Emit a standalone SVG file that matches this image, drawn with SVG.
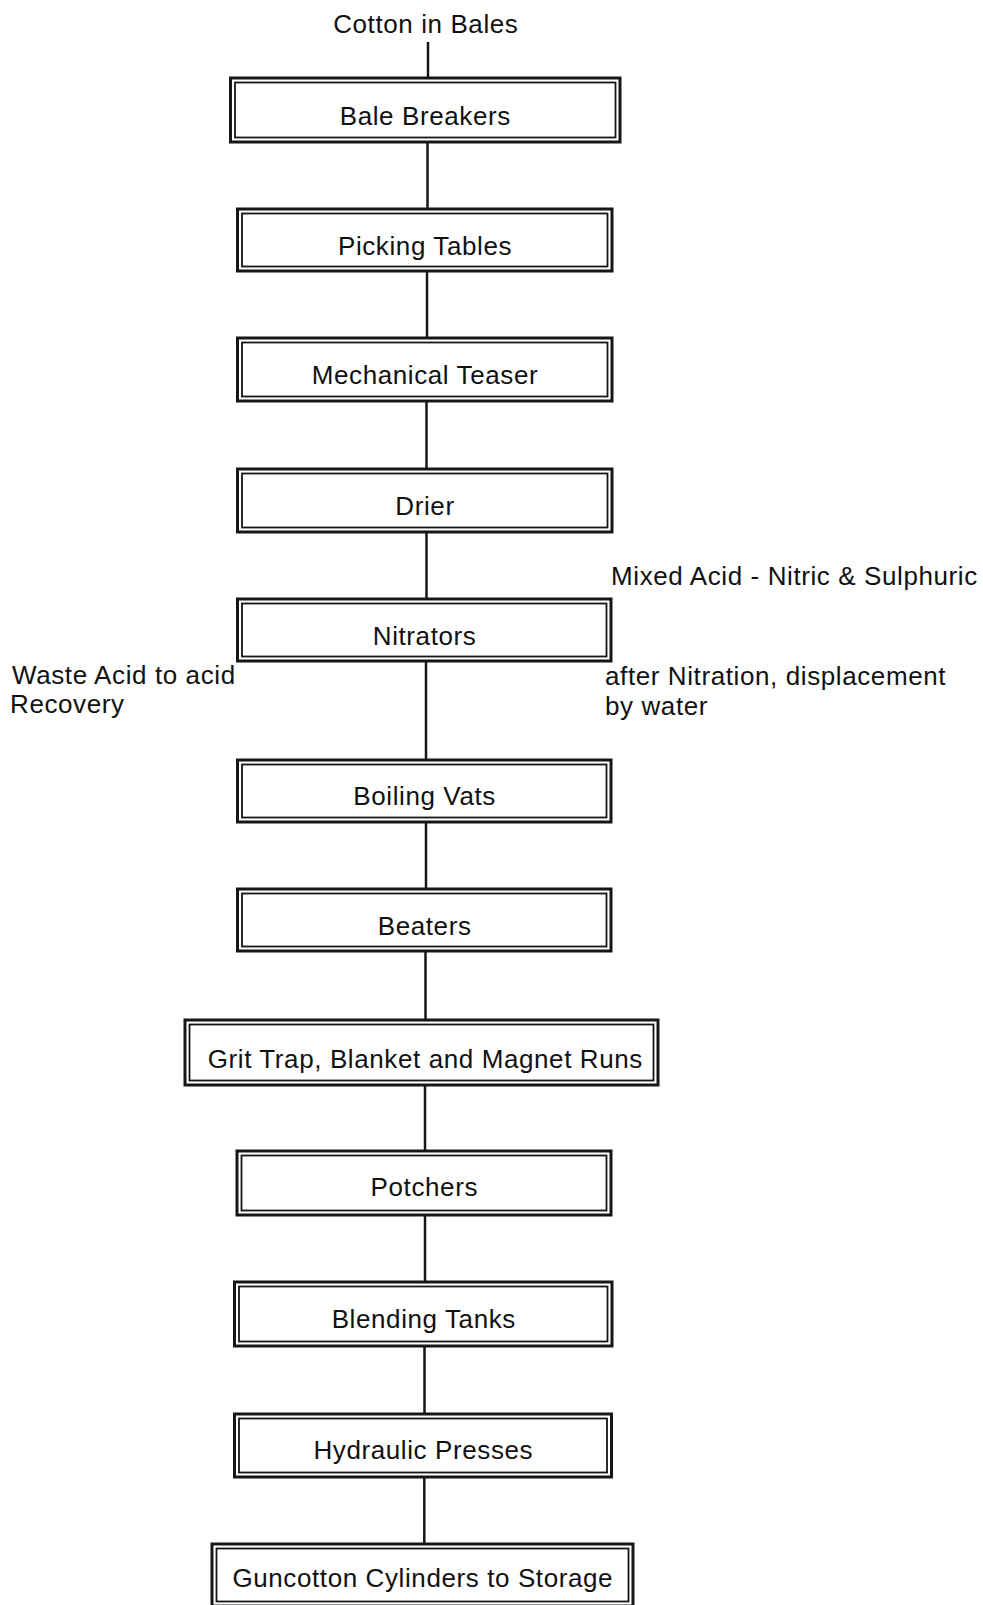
<svg xmlns="http://www.w3.org/2000/svg" width="983" height="1605" viewBox="0 0 983 1605">
<style>
.o{fill:#fff;stroke:#161616;stroke-width:3}
.i{fill:none;stroke:#161616;stroke-width:1.8}
.t{font-family:"Liberation Sans",Arial,sans-serif;font-size:26px;letter-spacing:0.6px;fill:#111;text-anchor:middle}
.l{font-family:"Liberation Sans",Arial,sans-serif;font-size:26px;letter-spacing:0.6px;fill:#111}
.c{stroke:#161616;stroke-width:2.5;fill:none}
</style>
<rect width="983" height="1605" fill="#fff"/>
<g id="connectors">
<line class="c" x1="428" y1="42" x2="428" y2="78"/>
<line class="c" x1="427.5" y1="142" x2="427.5" y2="209"/>
<line class="c" x1="427" y1="271" x2="427" y2="338"/>
<line class="c" x1="426.5" y1="401" x2="426.5" y2="469"/>
<line class="c" x1="426.5" y1="532" x2="426.5" y2="599"/>
<line class="c" x1="426" y1="661" x2="426" y2="760"/>
<line class="c" x1="426" y1="822" x2="426" y2="889"/>
<line class="c" x1="425.5" y1="951" x2="425.5" y2="1020"/>
<line class="c" x1="425" y1="1085" x2="425" y2="1151"/>
<line class="c" x1="425" y1="1215" x2="425" y2="1282"/>
<line class="c" x1="424.5" y1="1346" x2="424.5" y2="1414"/>
<line class="c" x1="424.3" y1="1477" x2="424.3" y2="1544"/>
</g>
<g id="input">
<text class="t" x="425.8" y="33">Cotton in Bales</text>
</g>
<g id="bale-breakers">
<rect class="o" x="230.5" y="78" width="389.5" height="64"/>
<rect class="i" x="235" y="82.5" width="380.5" height="55"/>
<text class="t" x="425.3" y="125">Bale Breakers</text>
</g>
<g id="picking-tables">
<rect class="o" x="237.5" y="209" width="374.5" height="62"/>
<rect class="i" x="242" y="213.5" width="365.5" height="53"/>
<text class="t" x="425" y="255">Picking Tables</text>
</g>
<g id="mechanical-teaser">
<rect class="o" x="237.5" y="338" width="374.5" height="63"/>
<rect class="i" x="242" y="342.5" width="365.5" height="54"/>
<text class="t" x="425" y="384">Mechanical Teaser</text>
</g>
<g id="drier">
<rect class="o" x="237.5" y="469" width="374.5" height="63"/>
<rect class="i" x="242" y="473.5" width="365.5" height="54"/>
<text class="t" x="425" y="515">Drier</text>
</g>
<g id="nitrators">
<rect class="o" x="237.5" y="599" width="373.5" height="62"/>
<rect class="i" x="242" y="603.5" width="364.5" height="53"/>
<text class="t" x="424.6" y="645">Nitrators</text>
</g>
<g id="mixed-acid">
<text class="l" x="611" y="585">Mixed Acid - Nitric &amp; Sulphuric</text>
</g>
<g id="waste-acid">
<text class="l" x="12" y="684">Waste Acid to acid</text>
<text class="l" x="10" y="713">Recovery</text>
</g>
<g id="displacement">
<text class="l" x="605" y="685">after Nitration, displacement</text>
<text class="l" x="605" y="715">by water</text>
</g>
<g id="boiling-vats">
<rect class="o" x="237.5" y="760" width="373.5" height="62"/>
<rect class="i" x="242" y="764.5" width="364.5" height="53"/>
<text class="t" x="424.6" y="805">Boiling Vats</text>
</g>
<g id="beaters">
<rect class="o" x="237.5" y="889" width="373.5" height="62"/>
<rect class="i" x="242" y="893.5" width="364.5" height="53"/>
<text class="t" x="424.6" y="935">Beaters</text>
</g>
<g id="grit-trap">
<rect class="o" x="185" y="1020" width="473" height="65"/>
<rect class="i" x="189.5" y="1024.5" width="464" height="56"/>
<text class="t" x="425.3" y="1068">Grit Trap, Blanket and Magnet Runs</text>
</g>
<g id="potchers">
<rect class="o" x="237" y="1151" width="374" height="64"/>
<rect class="i" x="241.5" y="1155.5" width="365" height="55"/>
<text class="t" x="424.3" y="1196">Potchers</text>
</g>
<g id="blending-tanks">
<rect class="o" x="234.5" y="1282" width="377.5" height="64"/>
<rect class="i" x="239" y="1286.5" width="368.5" height="55"/>
<text class="t" x="423.8" y="1328">Blending Tanks</text>
</g>
<g id="hydraulic-presses">
<rect class="o" x="234.5" y="1414" width="377" height="63"/>
<rect class="i" x="239" y="1418.5" width="368" height="54"/>
<text class="t" x="423.3" y="1459">Hydraulic Presses</text>
</g>
<g id="guncotton">
<rect class="o" x="212" y="1544" width="421" height="62"/>
<rect class="i" x="216.5" y="1548.5" width="412" height="53"/>
<text class="t" x="422.8" y="1587">Guncotton Cylinders to Storage</text>
</g>
</svg>
